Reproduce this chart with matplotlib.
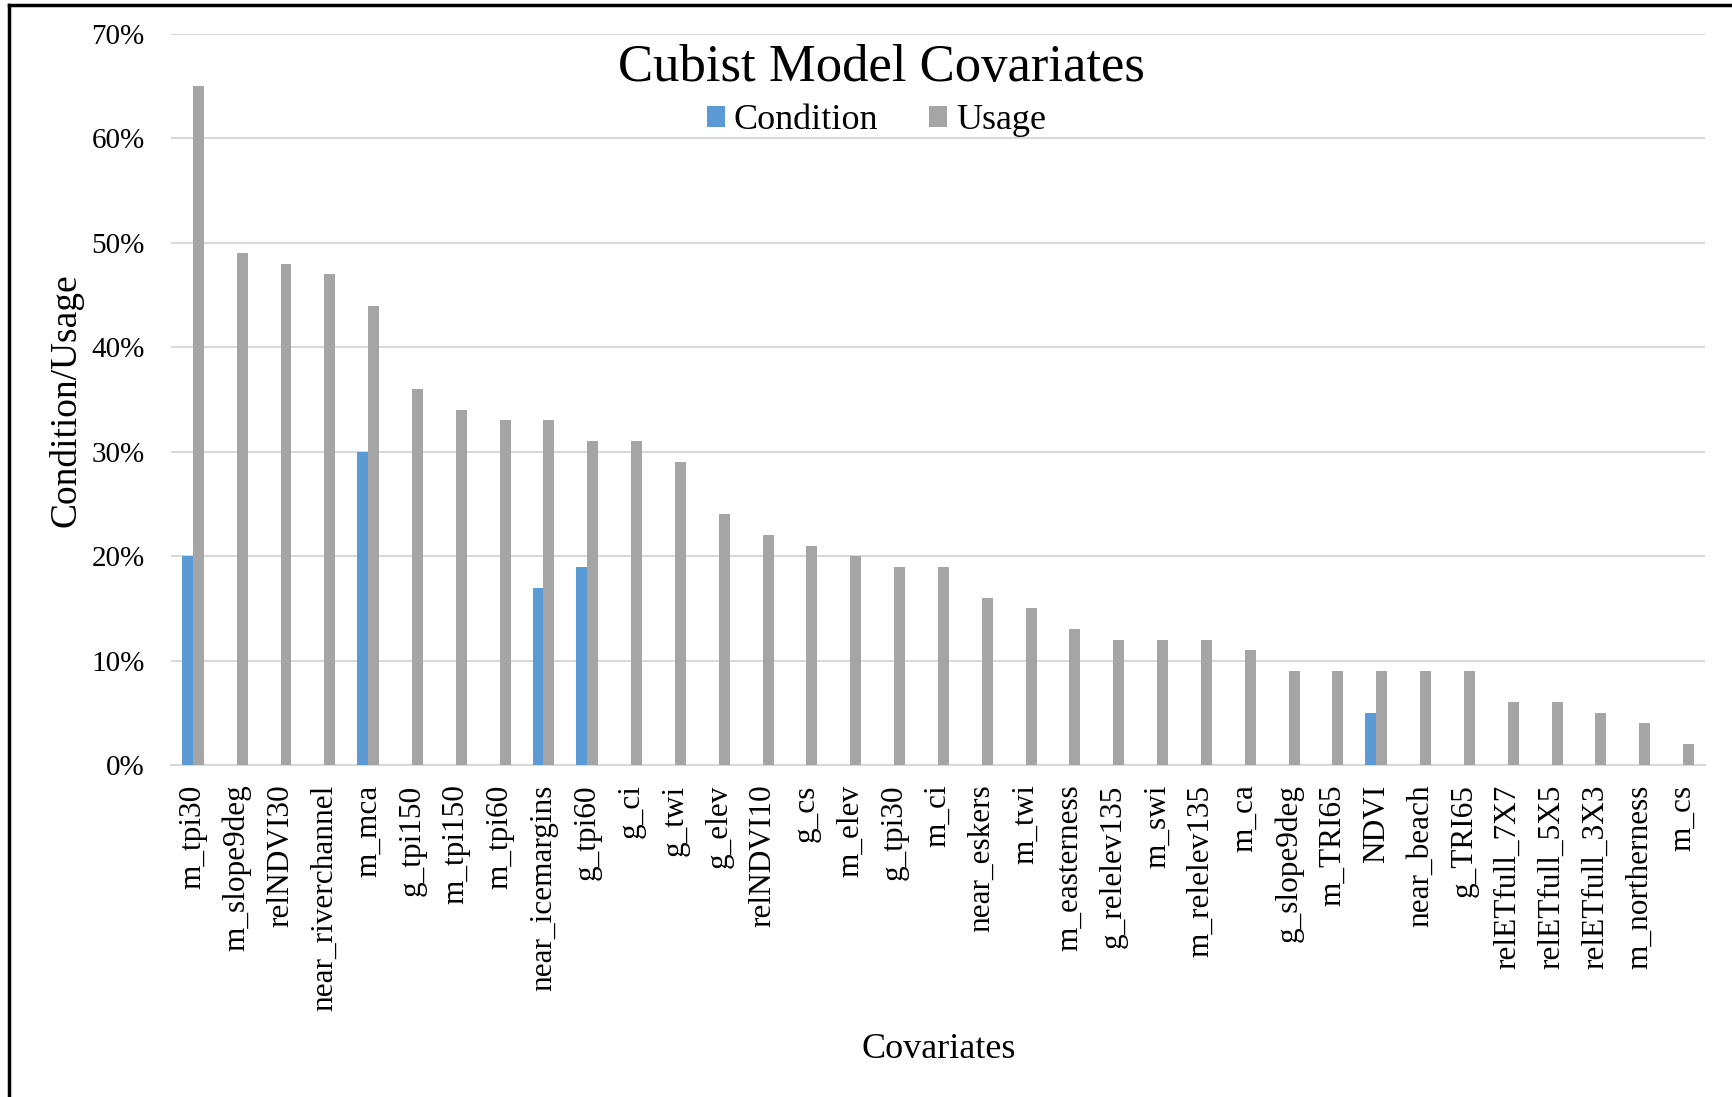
import matplotlib
matplotlib.use("Agg")
import matplotlib.pyplot as plt
import numpy as np
from matplotlib.lines import Line2D
from matplotlib.ticker import PercentFormatter

covariates = ["m_tpi30", "m_slope9deg", "relNDVI30", "near_riverchannel", "m_mca",
              "g_tpi150", "m_tpi150", "m_tpi60", "near_icemargins", "g_tpi60",
              "g_ci", "g_twi", "g_elev", "relNDVI10", "g_cs", "m_elev", "g_tpi30",
              "m_ci", "near_eskers", "m_twi", "m_easterness", "g_relelev135",
              "m_swi", "m_relelev135", "m_ca", "g_slope9deg", "m_TRI65", "NDVI",
              "near_beach", "g_TRI65", "relETfull_7X7", "relETfull_5X5",
              "relETfull_3X3", "m_northerness", "m_cs"]
condition = [20, 0, 0, 0, 30, 0, 0, 0, 17, 19, 0, 0, 0, 0, 0, 0, 0,
             0, 0, 0, 0, 0, 0, 0, 0, 0, 0, 5, 0, 0, 0, 0, 0, 0, 0]
usage = [65, 49, 48, 47, 44, 36, 34, 33, 33, 31, 31, 29, 24, 22, 21, 20, 19,
         19, 16, 15, 13, 12, 12, 12, 11, 9, 9, 9, 9, 9, 6, 6, 5, 4, 2]

plt.rcParams['font.family'] = ['Liberation Serif', 'DejaVu Serif']

fig = plt.figure(figsize=(17.32, 10.97), dpi=100)
ax = fig.add_axes([0.0987, 0.3026, 0.8857, 0.6664])

x = np.arange(len(covariates))
w = 0.25
ax.bar(x - w / 2, condition, w, color="#5B9BD5", label="Condition", zorder=3)
ax.bar(x + w / 2, usage, w, color="#A5A5A5", label="Usage", zorder=3)

ax.set_xlim(-0.5, len(covariates) - 0.5)
ax.set_ylim(0, 70)
ax.set_yticks(np.arange(0, 71, 10))
ax.yaxis.set_major_formatter(PercentFormatter(decimals=0))
ax.grid(axis="y", color="#D9D9D9", linewidth=1.5, zorder=0)
for s in ["top", "right", "left"]:
    ax.spines[s].set_visible(False)
ax.spines["bottom"].set_color("#D9D9D9")
ax.spines["bottom"].set_linewidth(1.5)
ax.tick_params(axis="y", length=0, pad=19, labelsize=21)
ax.tick_params(axis="x", length=0, pad=14, labelsize=22.5)
ax.set_xticks(x)
ax.set_xticklabels(covariates, rotation=90)

fig.text(0.038, 0.635, "Condition/Usage", rotation=90, fontsize=27, ha="center", va="center")
fig.text(0.542, 0.043, "Covariates", fontsize=26, ha="center", va="center")
fig.text(0.509, 0.938, "Cubist Model Covariates", fontsize=38, ha="center", va="center")

fig.legend(loc="center", bbox_to_anchor=(0.506, 0.890), ncol=2, frameon=False,
           fontsize=26, handlelength=0.5, handleheight=0.5, handletextpad=0.25,
           columnspacing=1.4)

# outer frame (left and top edges only)
fig.add_artist(Line2D([0.005, 0.005], [0, 0.995], color="black", linewidth=2.5))
fig.add_artist(Line2D([0.005, 1], [0.995, 0.995], color="black", linewidth=2.5))

fig.savefig("out.png", dpi=100, facecolor="white")
